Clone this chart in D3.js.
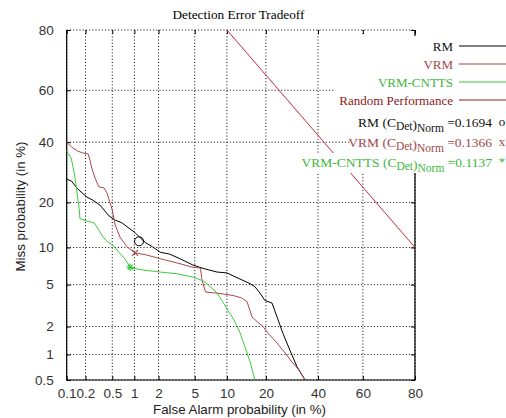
<!DOCTYPE html>
<html><head><meta charset="utf-8">
<script src="https://cdn.jsdelivr.net/npm/d3@7"></script>
<style>body{margin:0;background:#fff}svg{display:block}</style>
</head><body>
<script>
const xTicks = [0.1,0.2,0.5,1,2,5,10,20,40,60,80];
const xTickLabels = ["0.1","0.2","0.5","1","2","5","10","20","40","60","80"];
const yTicks = [0.5,1,2,5,10,20,40,60,80];
const yTickLabels = ["0.5","1","2","5","10","20","40","60","80"];

const rmPfa   = [0.1,0.12,0.15,0.21,0.26,0.33,0.38,0.45,0.55,0.68,0.85,1.0,1.2,1.4,1.7,2.1,2.7,3.5,4.8,6.3,8.2,10,12.8,15.4,16.7,18.2,19.7,22,23.7,25.8,28.5,31.2,34.5];
const rmPmiss = [27,26.3,23.9,21.5,20.6,19.3,18,16.5,15.5,14.9,13.7,12.9,11.7,10.8,10.1,9.2,8.9,8.2,7.3,6.8,6.4,6.3,5.6,5.1,4.8,4.2,3.6,3.4,2.5,1.7,1.1,0.72,0.5];

const vrmPfa   = [0.1,0.12,0.15,0.18,0.22,0.235,0.25,0.28,0.32,0.38,0.42,0.46,0.5,0.55,0.64,0.8,1.02,1.4,2.1,3.25,4.8,5.7,5.9,6.4,8.2,11.3,13.2,14.6,15.9,17.6,19.1,20.7,23.7,26.6,29.2,31.6,34.5];
const vrmPmiss = [40,38.2,36.7,36,35.6,33.4,30.6,27.3,24.5,24.2,22.7,20.1,18,14.4,11.9,10.1,9.1,8.8,8.2,7.6,7.0,6.9,5.5,4.3,4.2,4.0,3.8,3.5,2.5,2.2,2.0,1.7,1.34,1.04,0.82,0.68,0.5];

const cnttsPfa   = [0.1,0.118,0.13,0.14,0.15,0.16,0.164,0.21,0.27,0.32,0.36,0.42,0.51,0.62,0.73,0.85,0.93,1.3,2.1,3.25,4.8,6.05,7.1,8.2,9.2,10.2,11.3,12.8,14.1,15.4,16.7];
const cnttsPmiss = [36.7,34.2,30,26,21.5,18,15.8,15.3,14.9,13.3,12.1,11.1,10.4,9.2,8.3,7.3,6.9,6.65,6.4,6.2,5.8,5.4,4.8,4.2,3.5,2.9,2.4,1.75,1.2,0.82,0.5];

const randPfa   = [10,80];
const randPmiss = [80,10];

const costPfa   = [1.15,1.02,0.88];
const costPmiss = [11.1,9.1,7.0];
const costValues = ["0.1694","0.1366","0.1137"];

const seriesNames = ["RM","VRM","VRM-CNTTS","Random Performance"];
const colors = {rm:"#000000", vrm:"#a84848", cntts:"#3ccc3c", rand:"#c8283c"};

// inverse normal CDF (Acklam)
function probit(p){
  const a=[-3.969683028665376e+01,2.209460984245205e+02,-2.759285104469687e+02,1.383577518672690e+02,-3.066479806614716e+01,2.506628277459239e+00];
  const b=[-5.447609879822406e+01,1.615858368580409e+02,-1.556989798598866e+02,6.680131188771972e+01,-1.328068155288572e+01];
  const c=[-7.784894002430293e-03,-3.223964580411365e-01,-2.400758277161838e+00,-2.549732539343734e+00,4.374664141464968e+00,2.938163982698783e+00];
  const d=[7.784695709041462e-03,3.224671290700398e-01,2.445134137142996e+00,3.754408661907416e+00];
  const pl=0.02425, ph=1-pl; let q,r;
  if(p<pl){q=Math.sqrt(-2*Math.log(p));return (((((c[0]*q+c[1])*q+c[2])*q+c[3])*q+c[4])*q+c[5])/((((d[0]*q+d[1])*q+d[2])*q+d[3])*q+1);}
  if(p<=ph){q=p-0.5;r=q*q;return (((((a[0]*r+a[1])*r+a[2])*r+a[3])*r+a[4])*r+a[5])*q/(((((b[0]*r+b[1])*r+b[2])*r+b[3])*r+b[4])*r+1);}
  q=Math.sqrt(-2*Math.log(1-p));return -(((((c[0]*q+c[1])*q+c[2])*q+c[3])*q+c[4])*q+c[5])/((((d[0]*q+d[1])*q+d[2])*q+d[3])*q+1);
}
const pz = v => probit(v/100);

const W=506,H=418, L=66.7, R=415, T=30, B=380;
const xs = d3.scaleLinear().domain([pz(0.1), pz(80)]).range([L,R]);
const ys = d3.scaleLinear().domain([pz(0.5), pz(80)]).range([B,T]);
const X = v => xs(pz(v)), Y = v => ys(pz(v));

const svg = d3.select("body").append("svg").attr("width",W).attr("height",H);
svg.append("rect").attr("width",W).attr("height",H).attr("fill","#fff");

// grid
const grid = svg.append("g").attr("stroke","#000").attr("stroke-width",1).attr("stroke-dasharray","1,2.2");
grid.selectAll("line.v").data(xTicks).join("line")
  .attr("x1",d=>X(d)).attr("x2",d=>X(d)).attr("y1",T).attr("y2",B);
grid.selectAll("line.h").data(yTicks).join("line")
  .attr("x1",L).attr("x2",R).attr("y1",d=>Y(d)).attr("y2",d=>Y(d));

// axes
const fontSans = "'Liberation Sans', Arial, sans-serif";
const fontSerif = "'Liberation Serif', 'Times New Roman', serif";
const ax = svg.append("g").attr("transform",`translate(0,${B})`)
  .call(d3.axisBottom(xs).tickValues(xTicks.map(pz)).tickFormat((d,i)=>xTickLabels[i]).tickSize(-4).tickPadding(8));
const ay = svg.append("g").attr("transform",`translate(${L},0)`)
  .call(d3.axisLeft(ys).tickValues(yTicks.map(pz)).tickFormat((d,i)=>yTickLabels[i]).tickSize(-4).tickPadding(13));
const at = svg.append("g").attr("transform",`translate(0,${T})`)
  .call(d3.axisTop(xs).tickValues(xTicks.map(pz)).tickFormat("").tickSize(-4));
const ar = svg.append("g").attr("transform",`translate(${R},0)`)
  .call(d3.axisRight(ys).tickValues(yTicks.map(pz)).tickFormat("").tickSize(-4));
[ax,ay,at,ar].forEach(g=>{g.select(".domain").remove();
  g.selectAll("text").attr("font-family",fontSans).attr("font-size",13.5).attr("fill","#333");
  g.selectAll("line").attr("stroke","#000");});
svg.append("path").attr("d",`M${L},${T}V${B}H${R}V${T}`).attr("fill","none").attr("stroke","#000").attr("stroke-width",1.2);

// curves
const line = d3.line().x(d=>X(d[0])).y(d=>Y(d[1]));
const zip = (a,b)=>a.map((v,i)=>[v,b[i]]);
const curves = svg.append("g").attr("fill","none").attr("stroke-width",1);
curves.append("path").attr("d",line(zip(randPfa,randPmiss))).attr("stroke",colors.rand);
curves.append("path").attr("d",line(zip(rmPfa,rmPmiss))).attr("stroke",colors.rm);
curves.append("path").attr("d",line(zip(vrmPfa,vrmPmiss))).attr("stroke",colors.vrm);
curves.append("path").attr("d",line(zip(cnttsPfa,cnttsPmiss))).attr("stroke",colors.cntts);

// cost markers
svg.append("circle").attr("cx",X(costPfa[0])).attr("cy",Y(costPmiss[0])).attr("r",4.5)
  .attr("fill","none").attr("stroke","#000").attr("stroke-width",1);
const xm = svg.append("g").attr("stroke",colors.vrm).attr("stroke-width",1.2)
  .attr("transform",`translate(${X(costPfa[1])},${Y(costPmiss[1])})`);
xm.append("line").attr("x1",-3).attr("y1",-3).attr("x2",3).attr("y2",3);
xm.append("line").attr("x1",-3).attr("y1",3).attr("x2",3).attr("y2",-3);
const st = svg.append("g").attr("stroke",colors.cntts).attr("stroke-width",1.3)
  .attr("transform",`translate(${X(costPfa[2])},${Y(costPmiss[2])})`);
[0,45,90,135].forEach(a=>st.append("line").attr("x1",-3.5).attr("x2",3.5).attr("transform",`rotate(${a})`));

// title & axis labels
svg.append("text").attr("x",238.5).attr("y",19).attr("text-anchor","middle")
  .attr("font-family",fontSerif).attr("font-size",13.3).attr("fill","#000").text("Detection Error Tradeoff");
svg.append("text").attr("x",239.5).attr("y",414).attr("text-anchor","middle")
  .attr("font-family",fontSans).attr("font-size",13.3).attr("fill","#222").text("False Alarm probability (in %)");
svg.append("text").attr("transform","translate(24.5,206.5) rotate(-90)").attr("text-anchor","middle")
  .attr("font-family",fontSans).attr("font-size",13.3).attr("fill","#222").text("Miss probability (in %)");

// legend background
svg.append("rect").attr("x",335).attr("y",36).attr("width",171).attr("height",96).attr("fill","#fff");
svg.append("rect").attr("x",350).attr("y",132).attr("width",156).attr("height",21).attr("fill","#fff");
svg.append("rect").attr("x",306).attr("y",153).attr("width",200).attr("height",20).attr("fill","#fff");

const legColors = [colors.rm, colors.vrm, colors.cntts, "#8a2020"];
const legTextColors = ["#111","#a04848","#3cb83c","#8a2020"];
const lg = svg.append("g");
seriesNames.forEach((n,i)=>{
  const yy = 46 + i*18;
  lg.append("text").attr("x",453).attr("y",yy+4.5).attr("text-anchor","end")
    .attr("font-family",fontSerif).attr("font-size",13).attr("fill",legTextColors[i]).text(n);
  lg.append("line").attr("x1",459).attr("x2",506).attr("y1",yy).attr("y2",yy)
    .attr("stroke",legColors[i]).attr("stroke-width",1.1);
});
const costNames = ["RM","VRM","VRM-CNTTS"];
const costMarks = ["o","x","*"];
const costTextColors = ["#111","#a04848","#3cb83c"];
costNames.forEach((n,i)=>{
  const yy = 127 + i*20;
  const t = lg.append("text").attr("x",492).attr("y",yy).attr("text-anchor","end")
    .attr("font-family",fontSerif).attr("font-size",13.5).attr("fill",costTextColors[i]);
  t.append("tspan").text(n+" (C");
  t.append("tspan").attr("font-size",11.5).attr("dy",3).text("Det");
  t.append("tspan").attr("dy",-1).text(")");
  t.append("tspan").attr("font-size",11.5).attr("dy",3).text("Norm");
  t.append("tspan").attr("dy",-5).text(" =" + costValues[i]);
  lg.append("text").attr("x",502).attr("y",yy-1).attr("text-anchor","middle")
    .attr("font-family",fontSerif).attr("font-size",13).attr("fill",costTextColors[i]).text(costMarks[i]);
});
</script>
</body></html>
